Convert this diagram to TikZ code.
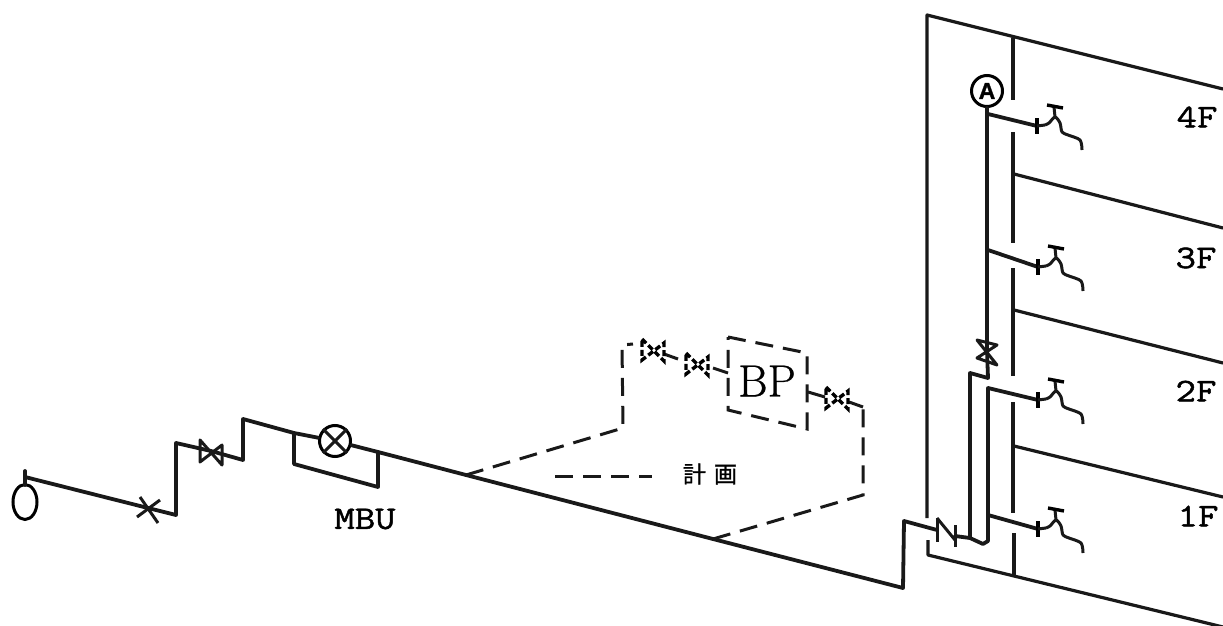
\documentclass[tikz,border=0pt]{standalone}
\usepackage{fontspec}
\setmainfont{Latin Modern Roman}[FakeBold=0.6]
\setmonofont{Latin Modern Mono}[FakeStretch=1.2, FakeBold=1.4]
\newfontfamily\cjkfont{Noto Sans CJK JP}[FakeBold=1.2]
\newfontfamily\markfont{Liberation Sans Bold}[FakeBold=1.5]
\usetikzlibrary{shapes.geometric}
\tikzstyle{pipe} = [line width=3.8pt, line join=round, line cap=round, black!90]
\tikzstyle{wall} = [line width=3.2pt, line join=round, black!90]
\tikzstyle{planned} = [line width=3pt, dash pattern=on 18pt off 10pt, black!90]
\tikzstyle{thinpart} = [line width=3pt, line join=round, black!90]
\tikzstyle{floorlabel} = [font=\ttfamily\fontsize{33}{33}\selectfont, inner sep=0pt]
\tikzset{
    bowtie/.pic={\draw [thinpart] (-11,-11) -- (11,14) -- (11,-6) -- (-11,11) -- cycle;},
    bowtieup/.pic={\draw [thinpart] (-10,-11) -- (10,-6) -- (-10,7) -- (10,14) -- cycle;},
    dashvalve/.pic={\draw [line width=3.4pt, dash pattern=on 6pt off 3pt] (-11,-13) -- (11,9) -- (11,-9) -- (-11,8) -- cycle;},
    faucet/.pic={
        \draw [line width=3.6pt] (0,-8) -- (0,8);
        \draw [thinpart] (0,0) -- (8,-1);
        \draw [thinpart] plot [smooth] coordinates {(8,-1) (12,-3) (18,-9) (23,-3) (25,6) (31,9) (43,14) (45,24)};
        \draw [thinpart] (18,-9) -- (17,-19);
        \draw [line width=3.4pt] (10,-21) -- (26,-18);
    }
}
\begin{document}
\begin{tikzpicture}[x=1pt, y=-1pt]

    \useasboundingbox (0,0) rectangle (1223,626);

    \node (meter) [ellipse, draw, line width=3pt, minimum width=24pt, minimum height=35pt, inner sep=0pt] at (25,502) {};
    \coordinate (stem) at (25,471);
    \coordinate (stemfoot) at (25,485);
    \coordinate (gate) at (148,508);
    \coordinate (rise1a) at (176,515);
    \coordinate (rise1b) at (176,443);
    \coordinate (valve1) at (211,451);
    \coordinate (rise2a) at (243,460);
    \coordinate (rise2b) at (243,419);
    \coordinate (by1) at (294,433);
    \coordinate (by2) at (294,464);
    \coordinate (by3) at (378,487);
    \coordinate (by4) at (378,452);
    \node (flow) [circle, draw, line width=3pt, minimum size=31pt, inner sep=0pt] at (335,441) {};
    \node (mbu) [floorlabel] at (365,519) {MBU};
    \coordinate (branch1) at (466,475);
    \coordinate (branch2) at (713,539);
    \coordinate (low) at (903,588);
    \coordinate (lowup) at (904,521);
    \coordinate (checka) at (937,530);
    \coordinate (checkb) at (955,536);

    \draw [pipe] (stem) -- (stemfoot);
    \draw [pipe] (stem) ++(0,6) -- (gate) -- (rise1a) -- (rise1b) -- (valve1);
    \draw [pipe] (valve1) -- (rise2a) -- (rise2b) -- (by1) -- (flow);
    \draw [pipe] (by1) -- (by2) -- (by3) -- (by4);
    \draw [pipe] (flow) -- (by4) -- (branch1) -- (branch2) -- (low) -- (lowup) -- (checka);
    \draw [thinpart] (flow.north west) -- (flow.south east);
    \draw [thinpart] (flow.north east) -- (flow.south west);
    \draw [thinpart] (137,517) -- (160,500);
    \draw [thinpart] (140,497) -- (158,523);
    \pic at (valve1) {bowtie};

    \draw [thinpart] (937,518) -- (937,542);
    \draw [thinpart] (937,518) -- (955,540);
    \draw [thinpart] (955,525) -- (955,547);

    \coordinate (wallTL) at (927,15);
    \coordinate (wallTR) at (1223,89);
    \coordinate (wallBL) at (928,555);
    \coordinate (wallBR) at (1223,627);
    \coordinate (wallG1) at (927,518);
    \coordinate (wallG2) at (928,540);
    \draw [wall] (wallG1) -- (wallTL) -- (wallTR);
    \draw [wall] (wallG2) -- (wallBL) -- (wallBR);

    \draw [wall] (1013,38) -- (1013,100);
    \draw [wall] (1013,132) -- (1013,243);
    \draw [wall] (1013,268) -- (1013,376);
    \draw [wall] (1013,402) -- (1013,513);
    \draw [wall] (1014,533) -- (1014,575);

    \coordinate (floor3a) at (1014,174);
    \coordinate (floor3b) at (1223,228);
    \coordinate (floor2a) at (1014,310);
    \coordinate (floor2b) at (1223,363);
    \coordinate (floor1a) at (1014,446);
    \coordinate (floor1b) at (1223,497);
    \draw [wall] (floor3a) -- (floor3b);
    \draw [wall] (floor2a) -- (floor2b);
    \draw [wall] (floor1a) -- (floor1b);

    \node (markA) [circle, draw, line width=3pt, minimum size=31pt, inner sep=0pt, font=\markfont\fontsize{23}{23}\selectfont] at (987,91) {A};
    \coordinate (valve2) at (987,351);
    \coordinate (riserfoot) at (970,538);
    \coordinate (riserknee) at (970,373);
    \coordinate (riserjog) at (988,378);
    \coordinate (lowtop) at (988,388);
    \coordinate (lowfoot) at (988,541);
    \coordinate (tap4) at (1037,126);
    \coordinate (tap3) at (1038,267);
    \coordinate (tap2) at (1038,400);
    \coordinate (tap1) at (1038,529);
    \coordinate (riser4) at (988,114);
    \coordinate (riser3) at (988,250);
    \coordinate (riser1) at (988,515);

    \draw [pipe] (markA) -- (valve2);
    \draw [pipe] (valve2) -- (riserjog) -- (riserknee) -- (riserfoot);
    \draw [pipe] (checkb) -- (riserfoot) -- (983,544) -- (lowfoot) -- (lowtop) -- (tap2);
    \draw [pipe] (riser4) -- (tap4);
    \draw [pipe] (riser3) -- (tap3);
    \draw [pipe] (riser1) -- (tap1);
    \pic at (valve2) {bowtieup};

    \pic at (tap4) {faucet};
    \pic at (tap3) {faucet};
    \pic at (tap2) {faucet};
    \pic at (tap1) {faucet};

    \node (label4) [floorlabel] at (1197,117) {4F};
    \node (label3) [floorlabel] at (1196,258) {3F};
    \node (label2) [floorlabel] at (1196,391) {2F};
    \node (label1) [floorlabel] at (1198,516) {1F};

    \coordinate (planA) at (623,428);
    \coordinate (planB) at (622,345);
    \coordinate (planC) at (633,344);
    \coordinate (planD) at (728,373);
    \coordinate (planE) at (808,392);
    \coordinate (planF) at (863,407);
    \coordinate (planG) at (863,495);
    \coordinate (boxTL) at (728,337);
    \coordinate (boxTR) at (807,353);
    \coordinate (boxBR) at (807,429);
    \coordinate (boxBL) at (728,410);
    \coordinate (valveP1) at (653,352);
    \coordinate (valveP2) at (697,366);
    \coordinate (valveP3) at (837,400);

    \draw [planned] (branch1) -- (planA) -- (planB) -- (planC);
    \draw [thinpart] (valveP1) ++(11,2) -- (678,359);
    \draw [thinpart] (713,368) -- (planD);
    \draw [thinpart] (planE) -- (825,397);
    \draw [thinpart] (849,402) -- (planF);
    \draw [planned] (branch2) -- (planG) -- (planF);
    \draw [planned] (boxTL) -- (boxTR) -- (boxBR) -- (boxBL) -- cycle;
    \pic at (valveP1) {dashvalve};
    \pic at (valveP2) {dashvalve};
    \pic at (valveP3) {dashvalve};

    \node (bp) [inner sep=0pt, font=\fontsize{45}{45}\selectfont] at (767,381) {BP};

    \coordinate (keyA) at (555,476);
    \coordinate (keyB) at (652,476);
    \draw [planned] (keyA) -- (keyB);
    \node (plan) [inner sep=0pt, font=\cjkfont\fontsize{23}{23}\selectfont] at (710,474) {計\hspace{8pt}画};

\end{tikzpicture}
\end{document}
